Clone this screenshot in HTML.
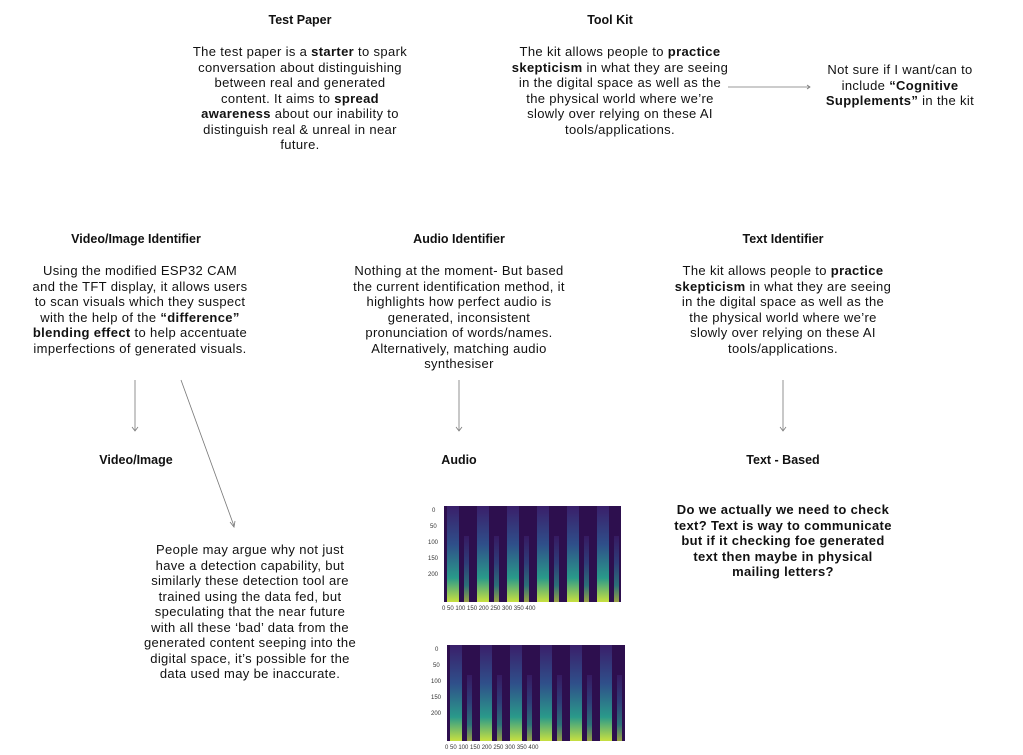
<!DOCTYPE html>
<html><head><meta charset="utf-8"><style>
body{margin:0;width:1023px;height:755px;background:#fff;position:relative;overflow:hidden;font-family:"Liberation Sans",sans-serif;color:#111;}
.t{position:absolute;text-align:center;font-size:13px;letter-spacing:0.35px;line-height:15.5px;white-space:nowrap;transform:translateX(-50%);}
.h{position:absolute;font-weight:bold;font-size:12.5px;transform:translateX(-50%);white-space:nowrap;}
svg{position:absolute;left:0;top:0;}
</style></head><body>
<div class="h" style="left:300px;top:13px">Test Paper</div>
<div class="t" style="left:300px;top:44px">The test paper is a <b>starter</b> to spark<br>conversation about distinguishing<br>between real and generated<br>content. It aims to <b>spread</b><br><b>awareness</b> about our inability to<br>distinguish real &amp; unreal in near<br>future.</div>
<div class="h" style="left:610px;top:13px">Tool Kit</div>
<div class="t" style="left:620px;top:44px">The kit allows people to <b>practice</b><br><b>skepticism</b> in what they are seeing<br>in the digital space as well as the<br>the physical world where we’re<br>slowly over relying on these AI<br>tools/applications.</div>
<div class="t" style="left:900px;top:62px">Not sure if I want/can to<br>include <b>“Cognitive</b><br><b>Supplements”</b> in the kit</div>

<div class="h" style="left:136px;top:232px">Video/Image Identifier</div>
<div class="t" style="left:140px;top:263px">Using the modified ESP32 CAM<br>and the TFT display, it allows users<br>to scan visuals which they suspect<br>with the help of the <b>“difference”</b><br><b>blending effect</b> to help accentuate<br>imperfections of generated visuals.</div>
<div class="h" style="left:459px;top:232px">Audio Identifier</div>
<div class="t" style="left:459px;top:263px">Nothing at the moment- But based<br>the current identification method, it<br>highlights how perfect audio is<br>generated, inconsistent<br>pronunciation of words/names.<br>Alternatively, matching audio<br>synthesiser</div>
<div class="h" style="left:783px;top:232px">Text Identifier</div>
<div class="t" style="left:783px;top:263px">The kit allows people to <b>practice</b><br><b>skepticism</b> in what they are seeing<br>in the digital space as well as the<br>the physical world where we’re<br>slowly over relying on these AI<br>tools/applications.</div>

<div class="h" style="left:136px;top:453px">Video/Image</div>
<div class="h" style="left:459px;top:453px">Audio</div>
<div class="h" style="left:783px;top:453px">Text - Based</div>
<div class="t" style="left:250px;top:542px">People may argue why not just<br>have a detection capability, but<br>similarly these detection tool are<br>trained using the data fed, but<br>speculating that the near future<br>with all these ‘bad’ data from the<br>generated content seeping into the<br>digital space, it’s possible for the<br>data used may be inaccurate.</div>
<div class="t" style="left:783px;top:502px;font-weight:bold">Do we actually we need to check<br>text? Text is way to communicate<br>but if it checking foe generated<br>text then maybe in physical<br>mailing letters?</div>

<svg width="1023" height="755">
<defs>
<linearGradient id="g" x1="0" y1="0" x2="0" y2="1">
<stop offset="0" stop-color="#3a1f6a"/><stop offset="0.4" stop-color="#2f4f8a"/><stop offset="0.75" stop-color="#2a9a8a"/><stop offset="1" stop-color="#c8e040"/></linearGradient>
<pattern id="p" x="444" y="506" width="30" height="96" patternUnits="userSpaceOnUse">
<rect width="30" height="96" fill="#2d0f4e"/>
<rect x="3" width="12" height="96" fill="url(#g)"/>
<rect x="20" y="30" width="5" height="66" fill="url(#g)" opacity="0.7"/>
</pattern>
<pattern id="p2" x="447" y="645" width="30" height="96" patternUnits="userSpaceOnUse">
<rect width="30" height="96" fill="#2d0f4e"/>
<rect x="3" width="12" height="96" fill="url(#g)"/>
<rect x="20" y="30" width="5" height="66" fill="url(#g)" opacity="0.7"/>
</pattern>
</defs>
<g stroke="#777" stroke-width="0.8" fill="none">
<line x1="135" y1="380" x2="135" y2="430"/><path d="M132,427 L135,431 L138,427"/>
<line x1="181" y1="380" x2="234" y2="526"/><path d="M230,522 L234,527 L235,521"/>
<line x1="459" y1="380" x2="459" y2="430"/><path d="M456,427 L459,431 L462,427"/>
<line x1="783" y1="380" x2="783" y2="430"/><path d="M780,427 L783,431 L786,427"/>
<line x1="728" y1="87" x2="810" y2="87"/><path d="M807,85 L810,87 L807,89"/>
</g>
<rect x="444" y="506" width="177" height="96" fill="url(#p)"/>
<rect x="447" y="645" width="178" height="96" fill="url(#p2)"/>
<g font-size="6" fill="#333" font-family="Liberation Sans">
<text x="432" y="512">0</text><text x="430" y="528">50</text><text x="428" y="544">100</text><text x="428" y="560">150</text><text x="428" y="576">200</text>
<text x="442" y="610">0  50  100  150  200  250  300  350  400</text>
<text x="435" y="651">0</text><text x="433" y="667">50</text><text x="431" y="683">100</text><text x="431" y="699">150</text><text x="431" y="715">200</text>
<text x="445" y="749">0  50  100  150  200  250  300  350  400</text>
</g>
</svg>
</body></html>
